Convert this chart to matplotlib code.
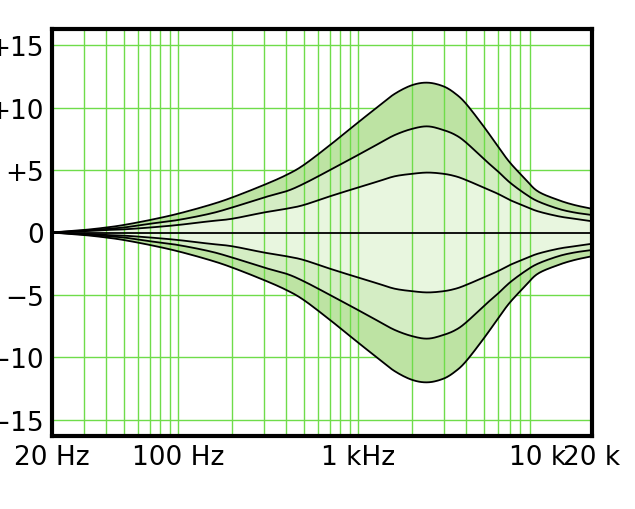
import matplotlib
matplotlib.use("Agg")
import matplotlib.pyplot as plt
from matplotlib import font_manager
import numpy as np

freqs = [20, 30, 40, 50, 70, 100, 150, 200, 300, 400, 500, 700, 1000, 1300, 1600, 2000, 2450, 3000, 3500, 4000, 5000, 6000, 7000, 8500, 10000, 13000, 16000, 20000]
outer = [0, 0.2, 0.4, 0.6, 1.0, 1.5, 2.2, 2.8, 3.8, 4.6, 5.4, 7.0, 8.8, 10.1, 11.1, 11.8, 12.0, 11.7, 11.1, 10.3, 8.5, 6.9, 5.6, 4.3, 3.3, 2.6, 2.2, 1.9]
middle = [0, 0.15, 0.3, 0.4, 0.7, 1.0, 1.5, 2.0, 2.8, 3.3, 3.9, 5.0, 6.2, 7.1, 7.8, 8.3, 8.5, 8.2, 7.8, 7.2, 5.9, 4.9, 4.0, 3.1, 2.5, 1.9, 1.6, 1.4]
inner = [0, 0.1, 0.2, 0.25, 0.4, 0.6, 0.9, 1.1, 1.6, 1.9, 2.2, 2.9, 3.6, 4.1, 4.5, 4.7, 4.8, 4.7, 4.5, 4.2, 3.6, 3.1, 2.6, 2.1, 1.7, 1.3, 1.1, 0.9]

def smooth(xs, ys, n=12):
    # Catmull-Rom through the read points in log-frequency space (drawing only)
    lx = np.log10(xs); y = np.asarray(ys, float)
    P = np.column_stack([lx, y])
    P = np.vstack([2*P[0]-P[1], P, 2*P[-1]-P[-2]])
    out = []
    for k in range(1, len(P)-2):
        p0, p1, p2, p3 = P[k-1], P[k], P[k+1], P[k+2]
        for t in np.linspace(0, 1, n, endpoint=False):
            out.append(0.5*((2*p1) + (-p0+p2)*t + (2*p0-5*p1+4*p2-p3)*t*t + (-p0+3*p1-3*p2+p3)*t**3))
    out.append(P[-2])
    out = np.array(out)
    return 10**out[:, 0], out[:, 1]

fo, o = smooth(freqs, outer)
fm, m = smooth(freqs, middle)
fi, i_ = smooth(freqs, inner)

names = {f.name for f in font_manager.fontManager.ttflist}
fam = "Liberation Sans Narrow" if "Liberation Sans Narrow" in names else "DejaVu Sans"

fig = plt.figure(figsize=(6.35, 5.10), dpi=100)
ax = fig.add_axes([52/635, 1-437/510, 540/635, 407/510])
ax.set_xscale("log")
ax.set_xlim(20, 20000)
ax.set_ylim(-16.3, 16.3)

gc = "#6fdc4a"
for y in [-15, -10, -5, 5, 10, 15]:
    ax.axhline(y, color=gc, lw=1, zorder=0)

ax.fill_between(fo, -o, o, color="#bde3a3", zorder=1, lw=0)
ax.fill_between(fm, -m, m, color="#d4edc4", zorder=1, lw=0)
ax.fill_between(fi, -i_, i_, color="#e8f6df", zorder=1, lw=0)
for d in [10, 100, 1000]:
    for k in range(1, 10):
        v = d * k
        if 20 <= v <= 20000:
            ax.axvline(v, color=gc, lw=1, zorder=2)
for fx, s in [(fo, o), (fm, m), (fi, i_)]:
    ax.plot(fx, s, color="black", lw=1.3, zorder=3)
    ax.plot(fx, -s, color="black", lw=1.3, zorder=3)
ax.axhline(0, color="black", lw=1.3, zorder=3)

ax.set_yticks([-15, -10, -5, 0, 5, 10, 15])
ax.set_yticklabels(["\u221215", "\u221210", "\u22125", "0", "+5", "+10", "+15"])
ax.set_xticks([20, 100, 1000, 10000, 20000])
ax.set_xticklabels(["20 Hz", "100 Hz", "1 kHz", "10 k", "20 k"])
ax.xaxis.set_minor_locator(matplotlib.ticker.NullLocator())
ax.tick_params(length=0, labelsize=19, pad=6)
for lab in ax.get_xticklabels() + ax.get_yticklabels():
    lab.set_fontfamily(fam)
for sp in ax.spines.values():
    sp.set_linewidth(3)
plt.savefig("out.png", dpi=100)
